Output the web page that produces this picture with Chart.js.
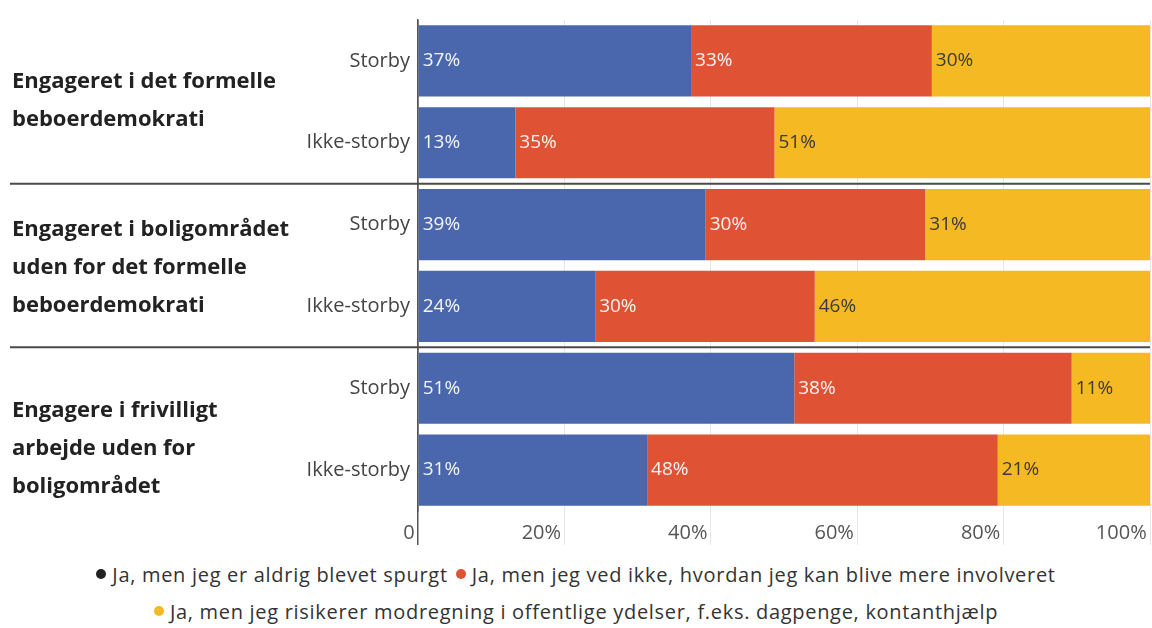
<!DOCTYPE html>
<html lang="da">

<head>
    <meta charset="UTF-8">
    <title>Engagement – storby / ikke-storby</title>
    <script src="https://cdn.jsdelivr.net/npm/chart.js"></script>
    <style>
        body {
            margin: 0;
            background: #fff;
            font-family: "Open Sans", sans-serif;
        }

        #wrap {
            position: relative;
            width: 1152px;
            height: 628px;
        }

        #chartBox {
            position: absolute;
            left: 0;
            top: 0;
            width: 1152px;
            height: 550px;
        }

        .legend {
            position: absolute;
            left: 0;
            width: 1152px;
            text-align: center;
            font-size: 20px;
            letter-spacing: 0.7px;
            color: #333;
            white-space: nowrap;
        }

        .legend .dot {
            display: inline-block;
            width: 10px;
            height: 10px;
            border-radius: 50%;
            margin-right: 6px;
            vertical-align: 3px;
        }

        .legend .item {
            margin: 0 4px;
        }
    </style>
</head>

<body>
    <div id="wrap">
        <div id="chartBox"><canvas id="engChart"></canvas></div>
        <div class="legend" id="legend1" style="top:561px"></div>
        <div class="legend" id="legend2" style="top:598px"></div>
    </div>

    <script>
        // rows (bottom-up order is handled by the category scale)
        const rowLabels = ['Storby', 'Ikke-storby', 'Storby', 'Ikke-storby', 'Storby', 'Ikke-storby'];
        const groupLabels = [
            ['Engageret i det formelle', 'beboerdemokrati'],
            ['Engageret i boligområdet', 'uden for det formelle', 'beboerdemokrati'],
            ['Engagere i frivilligt', 'arbejde uden for', 'boligområdet']
        ];
        const seriesNames = [
            'Ja, men jeg er aldrig blevet spurgt',
            'Ja, men jeg ved ikke, hvordan jeg kan blive mere involveret',
            'Ja, men jeg risikerer modregning i offentlige ydelser, f.eks. dagpenge, kontanthjælp'
        ];
        // shares in % (labels show the rounded value)
        const neverAsked = [37.3, 13.3, 39.3, 24.2, 51.4, 31.3];
        const dontKnowHow = [32.9, 35.4, 30.0, 30.0, 37.9, 47.9];
        const riskOffset = [29.8, 51.3, 30.7, 45.8, 10.7, 20.8];

        const barColors = ['#4a67ad', '#df5334', '#f5ba23'];
        const legendDots = ['#222222', '#df5334', '#f5ba23'];
        const valueColors = ['#f4f4f4', '#f4f4f4', '#3a3a3a'];
        const FONT = '"Open Sans", sans-serif';

        // value labels at the start of each segment
        const barLabels = {
            id: 'barLabels',
            afterDatasetsDraw(chart) {
                const ctx = chart.ctx;
                ctx.save();
                ctx.font = '19px ' + FONT;
                ctx.textBaseline = 'middle';
                ctx.textAlign = 'left';
                chart.data.datasets.forEach((ds, di) => {
                    chart.getDatasetMeta(di).data.forEach((bar, i) => {
                        ctx.fillStyle = valueColors[di];
                        ctx.fillText(Math.round(ds.data[i]) + '%', bar.base + 4, bar.y);
                    });
                });
                ctx.restore();
            }
        };

        // group titles on the left + separator lines between groups
        const groupShift = [-1, 2, 20];
        const groupTitles = {
            id: 'groupTitles',
            beforeDatasetsDraw(chart) {
                const { ctx, chartArea, scales: { y } } = chart;
                ctx.save();
                ctx.strokeStyle = '#4a4a4a';
                ctx.lineWidth = 2;
                for (let g = 1; g < groupLabels.length; g++) {
                    const yy = (y.getPixelForValue(2 * g - 1) + y.getPixelForValue(2 * g)) / 2;
                    ctx.beginPath();
                    ctx.moveTo(10, yy);
                    ctx.lineTo(chartArea.right, yy);
                    ctx.stroke();
                }
                ctx.font = 'bold 22px ' + FONT;
                ctx.fillStyle = '#222';
                ctx.textBaseline = 'middle';
                ctx.textAlign = 'left';
                groupLabels.forEach((lines, g) => {
                    const mid = (y.getPixelForValue(2 * g) + y.getPixelForValue(2 * g + 1)) / 2 + groupShift[g];
                    lines.forEach((t, k) => {
                        ctx.fillText(t, 12, mid + (k - (lines.length - 1) / 2) * 38);
                    });
                });
                ctx.restore();
            }
        };

        const ctx = document.getElementById('engChart').getContext('2d');
        const chart = new Chart(ctx, {
            type: 'bar',
            data: {
                labels: rowLabels,
                datasets: [neverAsked, dontKnowHow, riskOffset].map((d, i) => ({
                    label: seriesNames[i],
                    data: d,
                    backgroundColor: barColors[i],
                    borderWidth: 0,
                    barPercentage: 0.87,
                    categoryPercentage: 1
                }))
            },
            options: {
                indexAxis: 'y',
                responsive: true,
                maintainAspectRatio: false,
                animation: false,
                layout: { padding: { top: 13, left: 0, right: 2, bottom: 0 } },
                plugins: {
                    legend: { display: false },
                    tooltip: { enabled: false }
                },
                scales: {
                    x: {
                        stacked: true,
                        min: 0,
                        max: 100,
                        afterFit: s => { s.height = 39; },
                        border: { display: false },
                        grid: {
                            color: c => c.index === 0 ? '#555' : '#e6e6e6',
                            lineWidth: c => c.index === 0 ? 1.5 : 1,
                            tickLength: 34
                        },
                        ticks: {
                            stepSize: 20,
                            align: 'end',
                            padding: -24,
                            color: '#555',
                            font: { family: FONT, size: 20 },
                            callback: v => v === 0 ? '0\u2009' : v + '%\u2009'
                        }
                    },
                    y: {
                        stacked: true,
                        afterFit: s => { s.width = 418; },
                        border: { display: true, color: '#555', width: 1.5 },
                        grid: { drawOnChartArea: false, drawTicks: false },
                        ticks: {
                            padding: 8,
                            color: '#444',
                            font: { family: FONT, size: 20 }
                        }
                    }
                }
            },
            plugins: [groupTitles, barLabels]
        });

        // legend as html text, wrapped in two centred rows like the original
        const legendRows = [[0, 1], [2]];
        legendRows.forEach((idx, r) => {
            document.getElementById('legend' + (r + 1)).innerHTML = idx.map(i =>
                '<span class="item"><span class="dot" style="background:' + legendDots[i] + '"></span>' +
                seriesNames[i] + '</span>').join('');
        });
    </script>
</body>

</html>
